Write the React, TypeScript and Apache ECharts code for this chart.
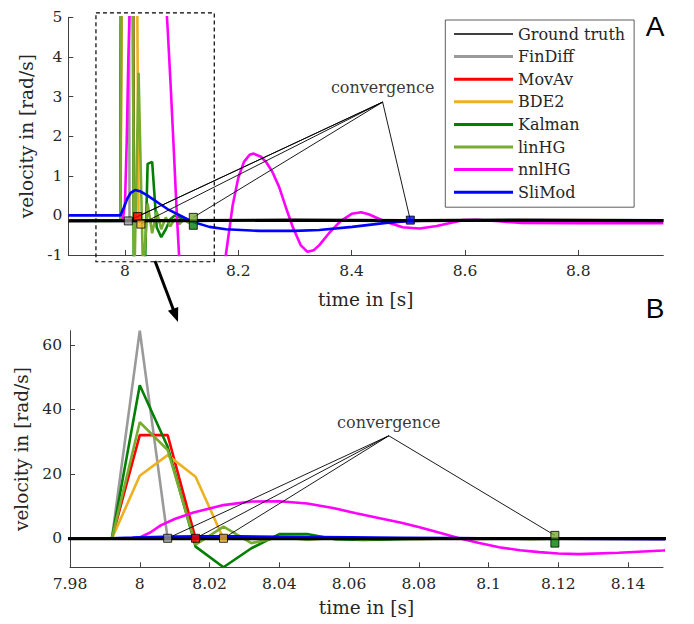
import React, { useEffect, useRef } from "react";
import * as echarts from "echarts";

const FONT = "DejaVu Serif";
const TXT = "#262626";
const AXIS = "#404040";

// legend / series names and colours
const seriesNames = ["Ground truth", "FinDiff", "MovAv", "BDE2", "Kalman", "linHG", "nnlHG", "SliMod"];
const seriesColors = ["#000000", "#9a9a9a", "#ff0000", "#edb120", "#008000", "#77ac30", "#ff00ff", "#0000ff"];

// [time s, velocity rad/s]
const groundTruth = [[7.9, -0.14], [8.1, -0.13], [8.3, -0.12], [8.5, -0.13], [8.7, -0.12], [8.95, -0.13]];
const finDiff = [[7.9, -0.13], [7.992, -0.13], [8.0, 64.4], [8.008, -0.13], [8.95, -0.13]];
const movAv = [[7.9, -0.13], [7.992, -0.13], [8.0, 32], [8.008, 32], [8.016, -0.13], [8.95, -0.13]];
const bde2 = [[7.9, -0.13], [7.992, -0.13], [8.0, 19.4], [8.008, 25.8], [8.016, 19.1], [8.024, -0.13], [8.95, -0.13]];
const kalman = [[7.9, -0.13], [7.992, -0.13], [8.0, 47.5], [8.008, 28.4], [8.016, -2.6], [8.024, -9.0], [8.032, -3.1], [8.04, 1.3], [8.048, 1.35], [8.056, -0.3], [8.064, -0.55], [8.072, -0.35], [8.08, -0.1], [8.088, 0.0], [8.096, -0.05], [8.104, -0.1], [8.112, -0.17], [8.12, -0.13], [8.95, -0.13]];
const linHG = [[7.9, -0.13], [7.992, -0.13], [8.0, 36.0], [8.008, 27.4], [8.016, -2.0], [8.024, 3.6], [8.032, -1.5], [8.04, 0.3], [8.048, -0.45], [8.056, 0.1], [8.064, -0.35], [8.072, -0.05], [8.08, -0.28], [8.088, -0.08], [8.096, -0.22], [8.104, -0.1], [8.112, -0.18], [8.12, -0.13], [8.95, -0.13]];
const nnlHG = [[7.9, -0.13], [7.996, -0.13], [8.0, 0.3], [8.003, 1.8], [8.006, 4.0], [8.01, 6.0], [8.0154, 8.0], [8.024, 10.3], [8.032, 11.4], [8.04, 11.5], [8.048, 10.8], [8.0554, 9.4], [8.062, 7.8], [8.0688, 6.2], [8.075, 4.8], [8.0802, 3.4], [8.086, 1.7], [8.0916, 0.0], [8.097, -1.4], [8.103, -2.8], [8.109, -3.7], [8.1145, -4.3], [8.12, -4.7], [8.1259, -4.9], [8.1373, -4.5], [8.15, -3.8], [8.16, -3.0], [8.17, -2.0], [8.178, -1.0], [8.19, 0.25], [8.2, 0.95], [8.21, 1.35], [8.22, 1.53], [8.227, 1.56], [8.24, 1.48], [8.25, 1.33], [8.26, 1.1], [8.272, 0.72], [8.284, 0.2], [8.296, -0.29], [8.31, -0.75], [8.322, -0.92], [8.333, -0.88], [8.343, -0.75], [8.36, -0.45], [8.38, -0.15], [8.4, 0.04], [8.417, 0.08], [8.43, 0.03], [8.46, -0.16], [8.49, -0.3], [8.52, -0.33], [8.55, -0.27], [8.578, -0.18], [8.596, -0.12], [8.62, -0.11], [8.66, -0.15], [8.7, -0.19], [8.8, -0.2], [8.95, -0.2]];
const sliMod = [[7.9, 0], [7.992, 0], [7.998, 0.2], [8.004, 0.42], [8.01, 0.57], [8.018, 0.64], [8.028, 0.6], [8.04, 0.5], [8.0605, 0.3], [8.075, 0.16], [8.09, 0.05], [8.105, -0.06], [8.119, -0.16], [8.149, -0.29], [8.178, -0.35], [8.237, -0.39], [8.3, -0.39], [8.343, -0.37], [8.401, -0.29], [8.4607, -0.19], [8.5036, -0.14], [8.55, -0.13], [8.95, -0.13]];

// convergence markers: FinDiff, MovAv, BDE2, linHG, Kalman, SliMod
const convMarkerNames = ["FinDiff", "MovAv", "BDE2", "linHG", "Kalman", "SliMod"];
const convA = [[8.0059, -0.14], [8.0222, -0.03], [8.0281, -0.22], [8.1206, -0.05], [8.1206, -0.25], [8.5036, -0.12]];
const convB = [[8.008, 0], [8.016, 0], [8.024, 0], [8.119, 0.9], [8.119, -1.5]];
const apexA = [8.4547, 2.86];
const labelA = [8.4547, 3.22];
const apexB = [8.0714, 31.8];
const labelB = [8.0714, 35.9];
const leaderA = [0, 1, 2, 3, 5];
const leaderB = [0, 1, 2, 3];

// axes
const xTicksA = [8, 8.2, 8.4, 8.6, 8.8];
const xTicksB = [7.98, 8, 8.02, 8.04, 8.06, 8.08, 8.1, 8.12, 8.14];
const yTicksB = [0, 20, 40, 60];
const zoomBoxT = [7.9488, 8.1576];
const zoomBoxV = [-1.17, 5.11];

const curves: Record<string, number[][]> = {
  "FinDiff": finDiff, "MovAv": movAv, "BDE2": bde2, "Kalman": kalman,
  "linHG": linHG, "nnlHG": nnlHG, "SliMod": sliMod, "Ground truth": groundTruth,
};

function colorOf(n: string) {
  return seriesColors[seriesNames.indexOf(n)];
}

export default function App() {
  const ref = useRef<HTMLDivElement>(null);
  useEffect(() => {
    const chart = echarts.init(ref.current!, null, { renderer: "svg" });
    const axisCommon = {
      axisLine: { show: true, onZero: false, lineStyle: { color: AXIS, width: 1 } },
      axisTick: { show: true, inside: true, length: 5, lineStyle: { color: AXIS, width: 1 } },
      splitLine: { show: false },
      nameTextStyle: { fontFamily: FONT, fontSize: 18.5, color: TXT },
    };
    const fmt = (v: number) => String(+v.toFixed(3));
    const series: any[] = [];
    const drawOrder = ["FinDiff", "MovAv", "BDE2", "Kalman", "linHG", "nnlHG", "SliMod", "Ground truth"];
    [0, 1].forEach((g) => {
      drawOrder.forEach((n) => {
        series.push({
          type: "line", name: n, data: curves[n], xAxisIndex: g, yAxisIndex: g,
          symbol: "none", showSymbol: false, silent: true, clip: true,
          lineStyle: { color: colorOf(n), width: n === "Ground truth" ? 3.2 : 2.6 },
          itemStyle: { color: colorOf(n) }, z: 2,
        });
      });
      const conv = g === 0 ? convA : convB;
      const apex = g === 0 ? apexA : apexB;
      const leaders = g === 0 ? leaderA : leaderB;
      series.push({
        type: "lines", coordinateSystem: "cartesian2d", xAxisIndex: g, yAxisIndex: g, silent: true, z: 3,
        lineStyle: { color: "#000", width: 0.9, opacity: 1, curveness: 0 },
        data: leaders.map((i) => ({ coords: [apex, conv[i]] })),
      });
      series.push({
        type: "scatter", name: "conv" + g, xAxisIndex: g, yAxisIndex: g, silent: true, z: 4,
        symbol: "rect", symbolSize: 8,
        data: conv.map((p, i) => ({ value: p, itemStyle: { color: colorOf(convMarkerNames[i]), borderColor: "#000", borderWidth: 1 } })),
      });
      series.push({
        type: "scatter", name: "label" + g, xAxisIndex: g, yAxisIndex: g, silent: true, z: 5,
        symbol: "circle", symbolSize: 1, itemStyle: { color: "rgba(0,0,0,0)" },
        label: { show: true, position: "inside", formatter: "convergence", fontFamily: FONT, fontSize: 16, color: "#000" },
        data: [g === 0 ? labelA : labelB],
      });
    });

    chart.setOption({
      animation: false,
      backgroundColor: "#fff",
      grid: [
        { left: 68.3, top: 17.3, width: 595, height: 237.7 },
        { left: 70, top: 330.7, width: 593, height: 236.6 },
      ],
      xAxis: [
        {
          ...axisCommon, type: "value", gridIndex: 0, min: 7.9, max: 8.95,
          axisTick: { ...axisCommon.axisTick, customValues: xTicksA },
          axisLabel: { customValues: xTicksA, formatter: fmt, fontFamily: FONT, fontSize: 15.5, color: TXT, margin: 8 },
          name: "time in [s]", nameLocation: "middle", nameGap: 35,
        },
        {
          ...axisCommon, type: "value", gridIndex: 1, min: 7.98, max: 8.15,
          axisTick: { ...axisCommon.axisTick, customValues: xTicksB },
          axisLabel: { customValues: xTicksB, formatter: fmt, fontFamily: FONT, fontSize: 15.5, color: TXT, margin: 9 },
          name: "time in [s]", nameLocation: "middle", nameGap: 31,
        },
      ],
      yAxis: [
        {
          ...axisCommon, type: "value", gridIndex: 0, min: -1, max: 5, interval: 1,
          axisLabel: { formatter: fmt, fontFamily: FONT, fontSize: 15.5, color: TXT, margin: 6 },
          name: "velocity in [rad/s]", nameLocation: "middle", nameGap: 28,
        },
        {
          ...axisCommon, type: "value", gridIndex: 1, min: -9.0, max: 64.4,
          axisTick: { ...axisCommon.axisTick, customValues: yTicksB },
          axisLabel: { customValues: yTicksB, formatter: fmt, fontFamily: FONT, fontSize: 15.5, color: TXT, margin: 8 },
          name: "velocity in [rad/s]", nameLocation: "middle", nameGap: 33,
        },
      ],
      legend: {
        orient: "vertical", left: 445.3, top: 20, padding: [6, 9, 7, 8.7],
        itemWidth: 59, itemHeight: 14, itemGap: 6.6, selectedMode: false,
        symbolKeepAspect: true,
        backgroundColor: "#fff", borderColor: "#333", borderWidth: 0.8,
        itemStyle: { borderWidth: 0 },
        textStyle: { fontFamily: FONT, fontSize: 16, color: TXT },
        data: seriesNames.map((n) => ({
          name: n,
          icon: n === "Ground truth" ? "path://M0 0H59V1.3H0Z" : "path://M0 0H59V3H0Z",
        })),
      },
      series,
    });

    const p1 = chart.convertToPixel({ gridIndex: 0 } as any, [zoomBoxT[0], zoomBoxV[1]]) as number[];
    const p2 = chart.convertToPixel({ gridIndex: 0 } as any, [zoomBoxT[1], zoomBoxV[0]]) as number[];
    const tail = [155, 261];
    const tip = [178, 322];
    const dx = tip[0] - tail[0], dy = tip[1] - tail[1];
    const len = Math.hypot(dx, dy);
    const ux = dx / len, uy = dy / len;
    const hl = 14, hw = 5.5;
    const bx = tip[0] - hl * ux, by = tip[1] - hl * uy;
    chart.setOption({
      graphic: [
        {
          type: "rect", z: 10, silent: true,
          shape: { x: p1[0], y: p1[1], width: p2[0] - p1[0], height: p2[1] - p1[1] },
          style: { fill: "none", stroke: "#000", lineWidth: 1.2, lineDash: [4, 3] },
        },
        {
          type: "line", z: 10, silent: true,
          shape: { x1: tail[0], y1: tail[1], x2: bx + 2 * ux, y2: by + 2 * uy },
          style: { stroke: "#000", lineWidth: 3 },
        },
        {
          type: "polygon", z: 10, silent: true,
          shape: { points: [[tip[0], tip[1]], [bx - hw * uy, by + hw * ux], [bx + hw * uy, by - hw * ux]] },
          style: { fill: "#000" },
        },
        {
          type: "text", z: 10, silent: true, x: 655, y: 26,
          style: { text: "A", font: "28px 'Liberation Sans', Arial, sans-serif", fill: "#000", textAlign: "center", textVerticalAlign: "middle" },
        },
        {
          type: "text", z: 10, silent: true, x: 655, y: 308,
          style: { text: "B", font: "28px 'Liberation Sans', Arial, sans-serif", fill: "#000", textAlign: "center", textVerticalAlign: "middle" },
        },
      ],
    });
    return () => chart.dispose();
  }, []);
  return <div ref={ref} style={{ position: "absolute", left: 0, top: 0, width: 694, height: 624 }} />;
}
